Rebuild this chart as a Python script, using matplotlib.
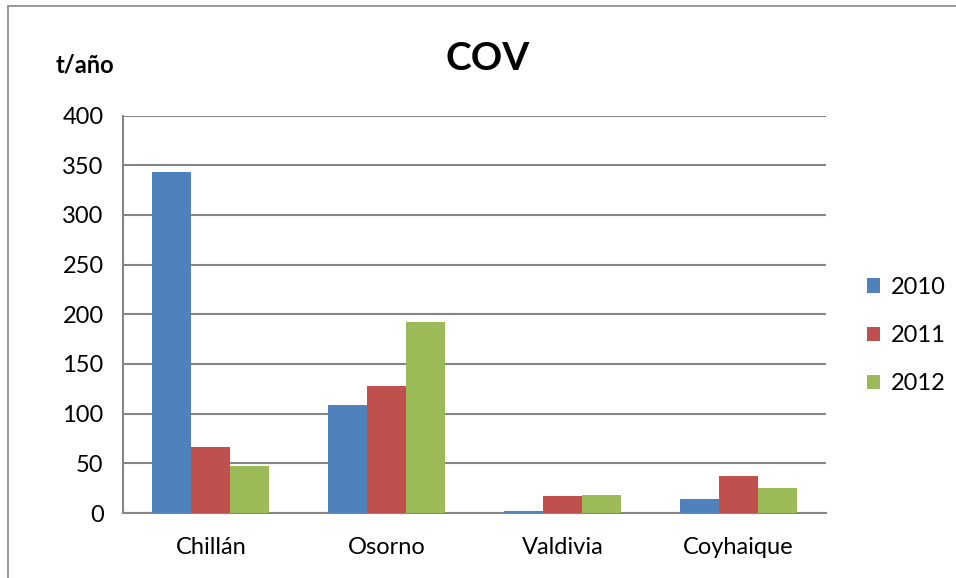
import numpy as np
import matplotlib
matplotlib.use("Agg")
import matplotlib.pyplot as plt
from matplotlib.patches import Rectangle

plt.rcParams['font.family'] = ['Lato', 'DejaVu Sans']

cities = ["Chillán", "Osorno", "Valdivia", "Coyhaique"]
years = ["2010", "2011", "2012"]
v2010 = [343, 109, 2, 14]
v2011 = [66, 128, 17, 37]
v2012 = [47, 192, 18, 25]
colors = ["#4F81BD", "#C0504D", "#9BBB59"]
yticks = [0, 50, 100, 150, 200, 250, 300, 350, 400]

fig = plt.figure(figsize=(9.56, 5.78), dpi=100)
ax = fig.add_axes([123/956, 1-513/578, (826-123)/956, (513-115.5)/578])

# outer chart frame
fig.patches.append(Rectangle((8/956, -0.05), 1.2, 1-6/578+0.05, transform=fig.transFigure,
                             fill=False, edgecolor="#868686", linewidth=1.2))

x = np.arange(len(cities))
bw = 1/4.5
for i, (vals, c, lab) in enumerate(zip([v2010, v2011, v2012], colors, years)):
    ax.bar(x + (i-1)*bw, vals, width=bw, color=c, label=lab, zorder=3)

ax.set_xlim(-0.5, 3.5)
ax.set_ylim(0, 400)
ax.set_yticks(yticks)
ax.set_xticks(x)
ax.set_xticklabels(cities)
ax.tick_params(axis='both', length=0, labelsize=17)
ax.tick_params(axis='x', pad=17)
ax.tick_params(axis='y', pad=14)
ax.grid(axis='y', color="#868686", linewidth=1.5, zorder=0)
for s in ["top", "right"]:
    ax.spines[s].set_visible(False)
for s in ["left", "bottom"]:
    ax.spines[s].set_color("#868686")
    ax.spines[s].set_linewidth(1.5)

fig.text(488/956, 1-58/578, "COV", ha="center", va="center", fontsize=28, fontweight="bold")
fig.text(85/956, 1-65/578, "t/año", ha="center", va="center", fontsize=17, fontweight="bold")

fig.legend(loc="center left", bbox_to_anchor=(846/956, 1-335.5/578), frameon=False,
           fontsize=17, handlelength=0.55, handleheight=0.55, labelspacing=1.15,
           handletextpad=0.45)

fig.savefig("out.png", dpi=100)
